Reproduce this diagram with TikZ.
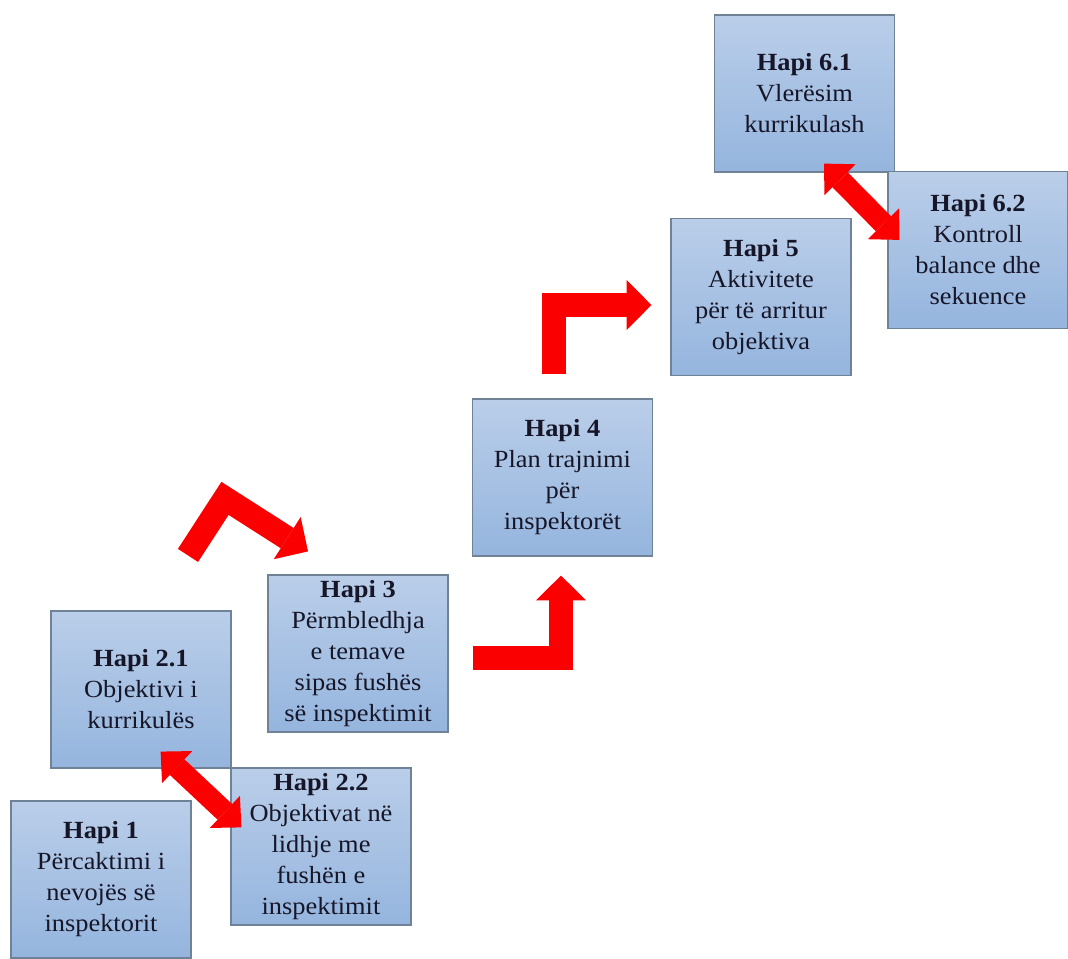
\documentclass[tikz,border=0pt]{standalone}
\usepackage{fontspec}
\setmainfont[FakeStretch=1.07]{Liberation Serif}
\usetikzlibrary{arrows.meta,calc}

\definecolor{boxtop}{RGB}{186,206,233}
\definecolor{boxbot}{RGB}{149,181,222}
\definecolor{boxline}{RGB}{112,130,150}
\definecolor{textdark}{RGB}{22,22,40}
\definecolor{arrowred}{RGB}{250,0,0}

\begin{document}
\begin{tikzpicture}[x=0.75pt,y=-0.75pt,
  stepbox/.style={draw=boxline, line width=0.9pt, top color=boxtop, bottom color=boxbot,
    minimum width=135pt, minimum height=117.75pt, inner sep=0pt, align=center,
    text=textdark, font=\fontsize{18.5}{23.25}\selectfont},
  bentarrow/.style={draw=arrowred, line width=18pt, line join=miter,
    -{Triangle[length=18.5pt 0, width=37.5pt 0, line width=0pt, color=arrowred]}},
  twoway/.style={draw=arrowred, line width=16pt,
    {Triangle[length=17pt 0, width=33pt 0, line width=0pt, color=arrowred]}-{Triangle[length=17pt 0, width=33pt 0, line width=0pt, color=arrowred]}}
]
\useasboundingbox (0,0) rectangle (1068,959);

% step boxes
\node[stepbox] (h1)  at (101,879.5) {\textbf{Hapi 1}\\Përcaktimi i\\nevojës së\\inspektorit};
\node[stepbox] (h21) at (141,689.5) {\textbf{Hapi 2.1}\\Objektivi i\\kurrikulës};
\node[stepbox] (h22) at (321,846.5) {\textbf{Hapi 2.2}\\Objektivat në\\lidhje me\\fushën e\\inspektimit};
\node[stepbox] (h3)  at (358,653.5) {\textbf{Hapi 3}\\Përmbledhja\\e temave\\sipas fushës\\së inspektimit};
\node[stepbox] (h4)  at (562.5,477.5) {\textbf{Hapi 4}\\Plan trajnimi\\për\\inspektorët};
\node[stepbox] (h5)  at (761,297) {\textbf{Hapi 5}\\Aktivitete\\për të arritur\\objektiva};
\node[stepbox] (h61) at (804.5,93.5) {\textbf{Hapi 6.1}\\Vlerësim\\kurrikulash};
\node[stepbox] (h62) at (978,250) {\textbf{Hapi 6.2}\\Kontroll\\balance dhe\\sekuence};

% connection points of the block arrows
\coordinate (foot2) at ($(h21.north)+(47,-55)$);
\coordinate (bend2) at ($(foot2)+(37,-57)$);
\coordinate (tip3)  at ($(h3.north)+(-50,-23)$);
\coordinate (out3)  at ($(h3.east)+(24,4)$);
\coordinate (in4)   at ($(h4.south)+(-1.5,19)$);
\coordinate (out4)  at ($(h4.north)+(-8.5,-24)$);
\coordinate (in5)   at ($(h5.west)+(-19,8)$);

% block arrows between the steps
\draw[bentarrow] (foot2) -- (bend2) -- (tip3);
\draw[bentarrow] (out3) -| (in4);
\draw[bentarrow] (out4) |- (in5);

% two-way arrows
\draw[twoway] ($(h21.south east)+(-71,-17)$) -- ($(h22.north west)+(11,60)$);
\draw[twoway] ($(h61.south east)+(-71,-9)$) -- ($(h62.north west)+(12,69)$);
\end{tikzpicture}
\end{document}
